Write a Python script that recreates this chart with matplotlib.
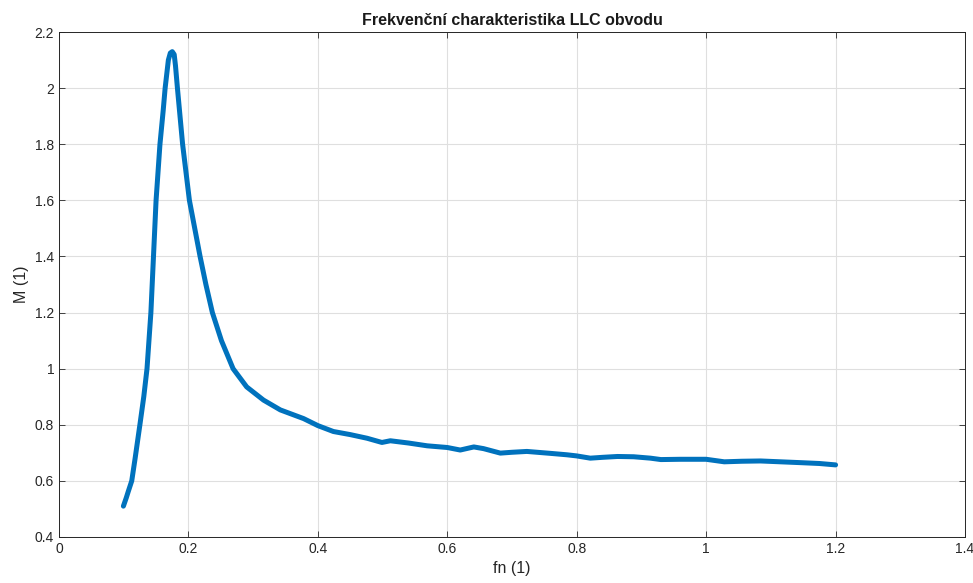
"""
Frekvencni charakteristika LLC obvodu - M vs fn
"""
import matplotlib
matplotlib.use('Agg')
import matplotlib.pyplot as plt

# values
fn = [0.0995, 0.104, 0.107, 0.1124, 0.1176, 0.125, 0.131, 0.136, 0.142, 0.146,
      0.150, 0.156, 0.161, 0.164, 0.167, 0.169, 0.172, 0.175, 0.178, 0.180,
      0.183, 0.191, 0.2015, 0.218, 0.227, 0.237, 0.251, 0.269,
      0.290, 0.316, 0.342, 0.378, 0.400, 0.424, 0.450, 0.476, 0.499,
      0.512, 0.540, 0.569, 0.600, 0.620, 0.641, 0.656, 0.682, 0.700, 0.723,
      0.760, 0.785, 0.800, 0.821, 0.840, 0.863, 0.888, 0.914, 0.930, 0.960,
      1.000, 1.028, 1.055, 1.084, 1.115, 1.146, 1.175, 1.200]
M = [0.51, 0.54, 0.562, 0.60, 0.68, 0.80, 0.90, 1.00, 1.20, 1.40,
     1.60, 1.80, 1.92, 2.00, 2.06, 2.10, 2.125, 2.13, 2.12, 2.08,
     2.00, 1.80, 1.60, 1.40, 1.30, 1.20, 1.10, 1.00,
     0.935, 0.888, 0.853, 0.822, 0.797, 0.776, 0.765, 0.752, 0.737,
     0.743, 0.735, 0.725, 0.719, 0.71, 0.721, 0.715, 0.699, 0.702, 0.705,
     0.698, 0.693, 0.689, 0.681, 0.684, 0.687, 0.686, 0.681, 0.676, 0.677,
     0.677, 0.668, 0.670, 0.671, 0.668, 0.665, 0.662, 0.657]

xticks = [0, 0.2, 0.4, 0.6, 0.8, 1, 1.2, 1.4]
yticks = [0.4, 0.6, 0.8, 1, 1.2, 1.4, 1.6, 1.8, 2, 2.2]
xlabels = ['0', '0.2', '0.4', '0.6', '0.8', '1', '1.2', '1.4']
ylabels = ['0.4', '0.6', '0.8', '1', '1.2', '1.4', '1.6', '1.8', '2', '2.2']

plt.rcParams['font.family'] = ['Liberation Sans', 'DejaVu Sans']

fig = plt.figure(figsize=(9.73, 5.83), dpi=100)
ax = fig.add_axes([59 / 973, 46 / 583, 906 / 973, 505 / 583])

ax.plot(fn, M, color='#0072BD', linewidth=3.6, solid_capstyle='round',
        solid_joinstyle='round')

ax.set_xlim(0, 1.4)
ax.set_ylim(0.4, 2.2)
ax.set_xticks(xticks)
ax.set_yticks(yticks)
ax.set_xticklabels(xlabels)
ax.set_yticklabels(ylabels)
ax.grid(True, color='#dfdfdf', linewidth=0.8)
ax.set_axisbelow(True)
ax.tick_params(direction='in', top=True, right=True, length=4, width=0.6,
               colors='#262626', labelsize=10)
for s in ax.spines.values():
    s.set_color('#262626')
    s.set_linewidth(0.7)

ax.set_title('Frekvenční charakteristika LLC obvodu', fontsize=11.5, fontweight='bold',
             color='#1a1a1a', pad=5)
ax.set_xlabel('fn (1)', fontsize=11.5, color='#262626', labelpad=4)
ax.set_ylabel('M (1)', fontsize=11.5, color='#262626', labelpad=4)

fig.savefig('out.png', dpi=100)
